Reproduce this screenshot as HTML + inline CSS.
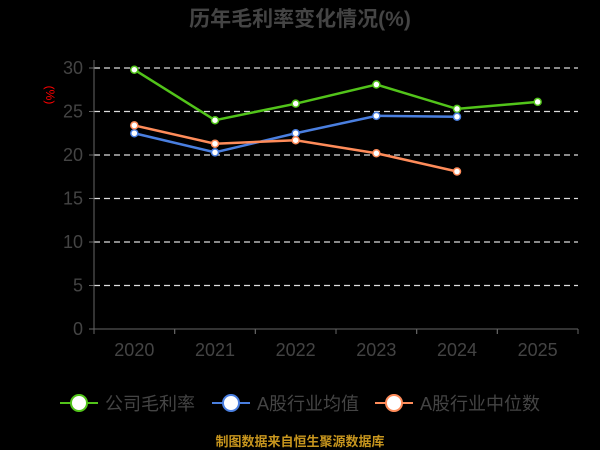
<!DOCTYPE html>
<html><head><meta charset="utf-8"><style>
body{margin:0;background:#000;width:600px;height:450px;overflow:hidden}
svg{display:block;font-family:"Liberation Sans","Noto Sans CJK SC",sans-serif}
</style></head><body>
<svg id="c" width="600" height="450">
<text x="300" y="26" text-anchor="middle" font-size="21" font-weight="bold" fill="#444">历年毛利率变化情况(%)</text>
<text transform="translate(46,95) rotate(90)" text-anchor="middle" font-size="12" fill="#f00">(%)</text>
<g id="grid"></g><g id="axes"></g><g id="series"></g>
<g id="legend"></g>
<text x="300" y="446" text-anchor="middle" font-size="13" font-weight="bold" fill="#c8961e">制图数据来自恒生聚源数据库</text>
</svg>
<script>
const categories=["2020","2021","2022","2023","2024","2025"];
const yTicks=[0,5,10,15,20,25,30];
const companyMargin=[29.8,24.0,25.9,28.1,25.3,26.1];
const industryAvg=[22.5,20.3,22.5,24.5,24.4];
const industryMedian=[23.4,21.3,21.7,20.2,18.1];
const seriesNames=["公司毛利率","A股行业均值","A股行业中位数"];
const colors=["#52c41a","#4a7fe0","#ff8c5a"];
const L=94,R=578,T=68,B=329,NS="http://www.w3.org/2000/svg";
const bw=(R-L)/categories.length;
const x=i=>L+bw*(i+0.5);
const y=v=>B-(v/30)*(B-T);
function mk(tag,attrs,parent){const e=document.createElementNS(NS,tag);for(const k in attrs)e.setAttribute(k,attrs[k]);parent.appendChild(e);return e;}
const grid=document.getElementById('grid'),axes=document.getElementById('axes'),ser=document.getElementById('series'),leg=document.getElementById('legend');
yTicks.forEach(t=>{
 if(t>0){const g=mk('line',{x1:L,x2:R,y1:y(t),y2:y(t),stroke:'#ddd','stroke-dasharray':'6,4','stroke-width':1.2},grid);
 
 }
 const tk=mk('line',{x1:L-5,x2:L,y1:y(t),y2:y(t),stroke:'#666'},axes);
 
 
 const tx=mk('text',{x:L-11,y:y(t)+6,'text-anchor':'end','font-size':18,fill:'#444'},axes);tx.textContent=t;
 
 
});
const ya=mk('line',{x1:L,x2:L,y1:T-8,y2:B,stroke:'#666'},axes);


const xa=mk('line',{x1:L,x2:R,y1:B,y2:B,stroke:'#666'},axes);


categories.forEach((c,i)=>{
 for(const px of [L+bw*i,L+bw*(i+1)]){const tk=mk('line',{x1:px,x2:px,y1:B,y2:B+5,stroke:'#666'},axes);
 
 }
 const tx=mk('text',{x:x(i),y:B+27,'text-anchor':'middle','font-size':18,fill:'#444'},axes);tx.textContent=c;
 
 
});
[companyMargin,industryAvg,industryMedian].forEach((d,s)=>{
 const p=mk('polyline',{points:d.map((v,i)=>x(i)+','+y(v)).join(' '),fill:'none',stroke:colors[s],'stroke-width':2.5},ser);
 
 
 d.forEach((v,i)=>{const ci=mk('circle',{cx:x(i),cy:y(v),r:3.5,fill:'#fff',stroke:colors[s],'stroke-width':1.5},ser);
 
 });
});
const lx=[60,212,375];
seriesNames.forEach((n,s)=>{
 const g=mk('g',{},leg);
 
 
 mk('line',{x1:lx[s],x2:lx[s]+38,y1:403,y2:403,stroke:colors[s],'stroke-width':2},g);
 mk('circle',{cx:lx[s]+19,cy:403,r:8,fill:'#fff',stroke:colors[s],'stroke-width':2},g);
 const t=mk('text',{x:lx[s]+45,y:410,'font-size':18,fill:'#444'},g);t.textContent=n;
});
</script>
</body></html>
